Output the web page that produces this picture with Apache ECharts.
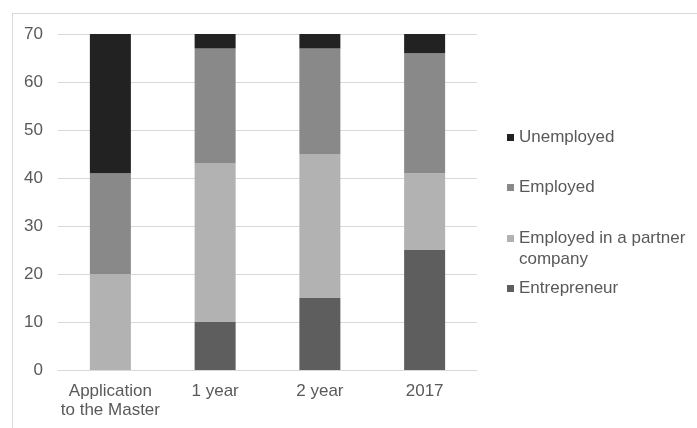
<!DOCTYPE html>
<html>
<head>
<meta charset="utf-8">
<script src="https://cdn.jsdelivr.net/npm/echarts@6/dist/echarts.min.js"></script>
<style>
  html, body { margin: 0; padding: 0; background: #fff; }
  #chart { width: 697px; height: 428px; }
</style>
</head>
<body>
<div id="chart"></div>
<script>
const categories = ['Application\nto the Master', '1 year', '2 year', '2017'];
const seriesNames = ['Entrepreneur', 'Employed in a partner company', 'Employed', 'Unemployed'];
const entrepreneur = [0, 10, 15, 25];
const partner = [20, 33, 30, 16];
const employed = [21, 24, 22, 25];
const unemployed = [29, 3, 3, 4];
const yTicks = { min: 0, max: 70, interval: 10 };

const colors = {
  'Entrepreneur': '#5e5e5e',
  'Employed in a partner company': '#b2b2b2',
  'Employed': '#898989',
  'Unemployed': '#222222'
};
const values = [entrepreneur, partner, employed, unemployed];

const font = 'Liberation Sans, Arial, sans-serif';
const textColor = '#595959';
const fs = 17;

const chart = echarts.init(document.getElementById('chart'), null, { renderer: 'canvas' });

function legendFor(name, top, twoLine) {
  return {
    show: true,
    orient: 'vertical',
    left: 507,
    top: top,
    padding: 0,
    itemWidth: 7,
    itemHeight: 7,
    itemGap: 5,
    icon: 'rect',
    selectedMode: false,
    data: [name],
    formatter: twoLine ? function () { return '\u00a0\nEmployed in a partner\ncompany'; } : undefined,
    textStyle: {
      fontFamily: font,
      fontSize: fs,
      color: textColor,
      lineHeight: 21
    }
  };
}

const option = {
  animation: false,
  backgroundColor: '#ffffff',
  grid: { left: 58, right: 220, top: 34, bottom: 58, containLabel: false },
  legend: [
    legendFor('Unemployed', 127, false),
    legendFor('Employed', 177, false),
    legendFor('Employed in a partner company', 207, true),
    legendFor('Entrepreneur', 278, false)
  ],
  xAxis: {
    type: 'category',
    data: categories,
    axisLine: { show: true, lineStyle: { color: '#d9d9d9', width: 1 } },
    axisTick: { show: false },
    axisLabel: {
      fontFamily: font,
      fontSize: fs,
      color: textColor,
      margin: 12,
      lineHeight: 19,
      interval: 0
    }
  },
  yAxis: {
    type: 'value',
    min: yTicks.min,
    max: yTicks.max,
    interval: yTicks.interval,
    axisLine: { show: false },
    axisTick: { show: false },
    splitLine: { lineStyle: { color: '#d9d9d9', width: 1 } },
    axisLabel: {
      fontFamily: font,
      fontSize: fs,
      color: textColor,
      margin: 15
    }
  },
  graphic: [
    { type: 'line', shape: { x1: 12, y1: 13.5, x2: 697, y2: 13.5 }, style: { stroke: '#d9d9d9', lineWidth: 1 }, silent: true },
    { type: 'line', shape: { x1: 12.5, y1: 13, x2: 12.5, y2: 428 }, style: { stroke: '#d9d9d9', lineWidth: 1 }, silent: true }
  ],
  series: seriesNames.map(function (name, i) {
    return {
      name: name,
      type: 'bar',
      stack: 'total',
      barWidth: 41,
      itemStyle: { color: colors[name] },
      emphasis: { disabled: true },
      data: values[i]
    };
  })
};

chart.setOption(option);
</script>
</body>
</html>
